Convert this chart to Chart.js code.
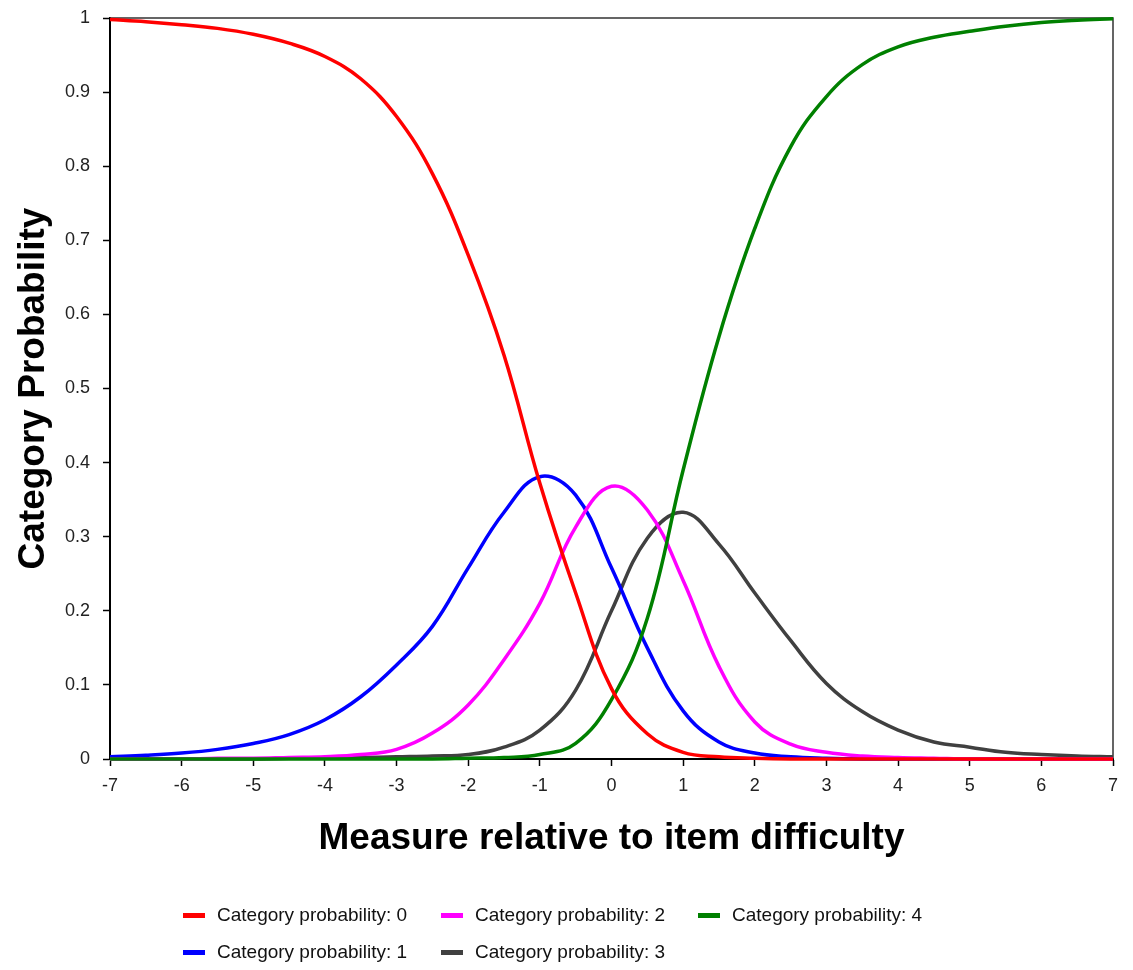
<!DOCTYPE html>
<html>
<head>
<meta charset="utf-8">
<script src="https://cdn.jsdelivr.net/npm/chart.js@4/dist/chart.umd.min.js"></script>
<style>
  html, body { margin: 0; padding: 0; background: #fff; }
  #wrap { position: relative; width: 1133px; height: 970px; }
  #wrap canvas { position: absolute; left: 0; top: 0; }
  .item { position: absolute; display: flex; align-items: center; height: 22px;
          font: 19px 'Liberation Sans', Arial, sans-serif; color: #111; white-space: nowrap; }
  .sw { width: 22px; height: 5px; margin-right: 12px; }
</style>
</head>
<body>
<div id="wrap">
  <canvas id="c" width="1133" height="970"></canvas>
  <div id="legend"></div>
</div>
<script>
// measure relative to item difficulty, every half logit
const measures = [-7, -6.5, -6, -5.5, -5, -4.5, -4, -3.5, -3, -2.5, -2, -1.5, -1, -0.5, 0,
                  0.5, 1, 1.5, 2, 2.5, 3, 3.5, 4, 4.5, 5, 5.5, 6, 6.5, 7];

const cat0 = [0.998, 0.995, 0.991, 0.986, 0.978, 0.966, 0.948, 0.918, 0.867, 0.79, 0.68, 0.545, 0.372, 0.224, 0.095,
              0.034, 0.009, 0.003, 0.001, 0, 0, 0, 0, 0, 0, 0, 0, 0, 0];
const cat1 = [0.003, 0.005, 0.008, 0.013, 0.021, 0.033, 0.053, 0.084, 0.127, 0.179, 0.258, 0.333, 0.381, 0.356, 0.258,
              0.15, 0.065, 0.023, 0.008, 0.003, 0.001, 0, 0, 0, 0, 0, 0, 0, 0];
const cat2 = [0, 0, 0, 0.001, 0.001, 0.002, 0.003, 0.006, 0.013, 0.035, 0.073, 0.134, 0.21, 0.313, 0.368,
              0.336, 0.241, 0.125, 0.05, 0.02, 0.009, 0.004, 0.002, 0.001, 0, 0, 0, 0, 0];
const cat3 = [0, 0, 0, 0, 0, 0.001, 0.001, 0.002, 0.003, 0.004, 0.006, 0.016, 0.039, 0.093, 0.2,
              0.298, 0.333, 0.29, 0.224, 0.16, 0.102, 0.064, 0.039, 0.023, 0.016, 0.009, 0.006, 0.004, 0.003];
const cat4 = [0, 0, 0, 0, 0, 0, 0, 0, 0, 0, 0.001, 0.002, 0.006, 0.021, 0.08,
              0.19, 0.39, 0.57, 0.716, 0.826, 0.894, 0.937, 0.961, 0.974, 0.982, 0.989, 0.994, 0.997, 0.999];

const seriesLabels = ['Category probability: 0', 'Category probability: 1', 'Category probability: 2',
                      'Category probability: 3', 'Category probability: 4'];
const seriesColors = ['#ff0000', '#0000ff', '#ff00ff', '#404040', '#008000'];
const seriesOrder = [0, 3, 2, 4, 1]; // lower draws on top
const xTicks = [-7, 7, 1];
const yTicks = [0, 1, 0.1];

const FONT = "'Liberation Sans', Arial, sans-serif";

// top and right edges of the plot frame, drawn under the curves
const frame = {
  id: 'frame',
  beforeDatasetsDraw(chart) {
    const { ctx, chartArea: a } = chart;
    ctx.save();
    ctx.strokeStyle = '#333';
    ctx.lineWidth = 1.5;
    ctx.beginPath();
    ctx.moveTo(a.left, a.top);
    ctx.lineTo(a.right, a.top);
    ctx.lineTo(a.right, a.bottom);
    ctx.stroke();
    ctx.restore();
  }
};

const all = [cat0, cat1, cat2, cat3, cat4];
new Chart(document.getElementById('c'), {
  type: 'line',
  data: {
    datasets: all.map((vals, i) => ({
      label: seriesLabels[i],
      data: vals.map((v, j) => ({ x: measures[j], y: v })),
      borderColor: seriesColors[i],
      borderWidth: 3.5,
      pointRadius: 0,
      fill: false,
      tension: 0.4,
      clip: false,
      order: seriesOrder[i],
    }))
  },
  options: {
    responsive: false,
    animation: false,
    layout: { padding: { left: 0, top: 18, right: 20, bottom: 0 } },
    plugins: { legend: { display: false }, tooltip: { enabled: false } },
    scales: {
      x: {
        type: 'linear', min: xTicks[0], max: xTicks[1],
        ticks: { stepSize: xTicks[2], color: '#222', padding: 9, font: { family: FONT, size: 18 } },
        grid: { drawOnChartArea: false, tickLength: 7, tickColor: '#000', tickWidth: 1.5 },
        border: { color: '#000', width: 2 },
        title: { display: true, text: 'Measure relative to item difficulty', color: '#000',
                 font: { family: FONT, size: 37, weight: 'bold' }, padding: { top: 0, bottom: 109 } },
        afterFit(s) { s.height = 211; s.paddingLeft = 0; s.paddingRight = 0; }
      },
      y: {
        min: yTicks[0], max: yTicks[1],
        ticks: { stepSize: yTicks[2], color: '#222', padding: 13, font: { family: FONT, size: 18 },
                 callback: v => String(Math.round(v * 10) / 10) },
        grid: { drawOnChartArea: false, tickLength: 7, tickColor: '#000', tickWidth: 1.5 },
        border: { color: '#000', width: 2 },
        title: { display: true, text: 'Category Probability', color: '#000',
                 font: { family: FONT, size: 37, weight: 'bold' }, padding: { top: 12, bottom: 0 } },
        afterFit(s) { s.width = 110; s.paddingTop = 0; s.paddingBottom = 0; }
      }
    }
  },
  plugins: [frame]
});

// legend laid out column-wise like the original
const legendSpots = [[183, 904], [183, 941], [441, 904], [441, 941], [698, 904]];
const lg = document.getElementById('legend');
seriesLabels.forEach((txt, i) => {
  const d = document.createElement('div');
  d.className = 'item';
  d.style.left = legendSpots[i][0] + 'px';
  d.style.top = legendSpots[i][1] + 'px';
  d.innerHTML = '<span class="sw" style="background:' + seriesColors[i] + '"></span><span>' + txt + '</span>';
  lg.appendChild(d);
});
</script>
</body>
</html>
